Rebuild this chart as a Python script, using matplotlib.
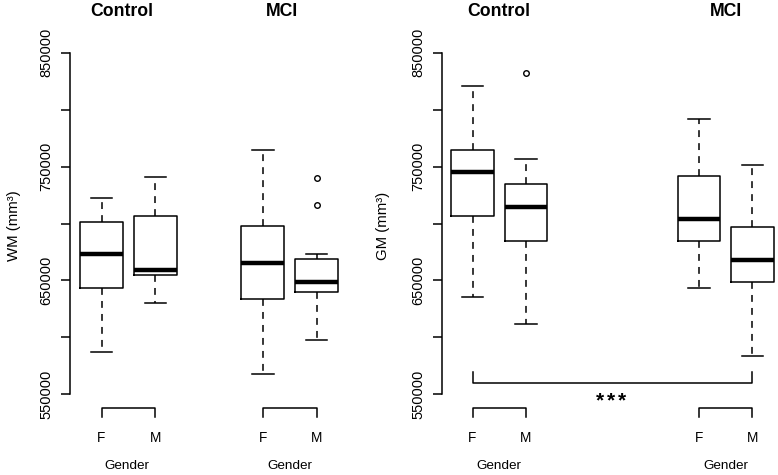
import matplotlib
matplotlib.use("Agg")
import matplotlib.pyplot as plt
import matplotlib.transforms as mtransforms

plt.rcParams['font.family'] = ['Liberation Sans', 'DejaVu Sans']

# ---------------- data ----------------
groups = ["Control", "MCI"]
genders = ["F", "M"]
yticks = [550000, 600000, 650000, 700000, 750000, 800000, 850000]
ytick_labels = ["550000", "", "650000", "", "750000", "", "850000"]

# WM (order: Control F, Control M, MCI F, MCI M)
wm_whislo = [587100, 630200, 568100, 597400]
wm_q1 = [643600, 655000, 633700, 639800]
wm_med = [673200, 659600, 665300, 648600]
wm_q3 = [701600, 706600, 697800, 668500]
wm_whishi = [722700, 740600, 764500, 672900]
wm_fliers = [[], [], [], [716500, 740200]]

# GM
gm_whislo = [635700, 611500, 643300, 583900]
gm_q1 = [706800, 684900, 684600, 648300]
gm_med = [745000, 714200, 704200, 667900]
gm_q3 = [764300, 735000, 742000, 696900]
gm_whishi = [821000, 756400, 792000, 751400]
gm_fliers = [[], [831900], [], []]

signif = "***"

# ---------------- layout ----------------
W, H = 778, 475
fig = plt.figure(figsize=(W / 100, H / 100), dpi=100)

Y_TOP_PX, Y_BOT_PX = 52.7, 394.3      # pixel rows of 850000 / 550000
per_px = (yticks[-1] - yticks[0]) / (Y_BOT_PX - Y_TOP_PX)
ylim = (yticks[-1] - (H - Y_TOP_PX) * per_px, yticks[-1] + Y_TOP_PX * per_px)


def yfrac(px):
    return 1 - px / H


def make_panel(ax_left_px, ax_right_px, p1_px, unit_px, positions, stats_arrays,
               ylabel, title_x_px, gender_x_px, ylab_x_px):
    ax = fig.add_axes([ax_left_px / W, 0, (ax_right_px - ax_left_px) / W, 1])
    x0 = 1 + (ax_left_px - p1_px) / unit_px
    x1 = 1 + (ax_right_px - p1_px) / unit_px
    whislo, q1, med, q3, whishi, fliers = stats_arrays
    stats = []
    for i in range(4):
        stats.append(dict(whislo=whislo[i], q1=q1[i], med=med[i], q3=q3[i],
                          whishi=whishi[i], fliers=fliers[i]))
    ax.bxp(stats, positions=positions, widths=0.8, capwidths=0.4,
           showfliers=True, patch_artist=False,
           boxprops=dict(color="black", linewidth=1.1),
           whiskerprops=dict(color="black", linewidth=1.1, linestyle=(0, (4.5, 4))),
           capprops=dict(color="black", linewidth=1.1),
           medianprops=dict(color="black", linewidth=3.2, solid_capstyle="butt"),
           flierprops=dict(marker="o", markersize=4, markerfacecolor="none",
                           markeredgecolor="black", markeredgewidth=1.0))
    ax.set_xlim(x0, x1)
    ax.set_ylim(*ylim)
    for s in ["top", "right", "bottom"]:
        ax.spines[s].set_visible(False)
    ax.spines["left"].set_bounds(yticks[0], yticks[-1])
    ax.spines["left"].set_linewidth(1.1)
    ax.set_yticks(yticks)
    ax.set_yticklabels(ytick_labels, rotation=90, va="center", fontsize=10.5)
    ax.tick_params(axis="y", length=6.5, width=1.1, pad=5.5)
    ax.set_xticks([])
    ax.set_facecolor("none")

    tr = mtransforms.blended_transform_factory(ax.transData, ax.transAxes)
    # gender brackets (per group axis)
    for g in range(2):
        pf, pm = positions[2 * g], positions[2 * g + 1]
        ax.plot([pf, pf, pm, pm], [yfrac(417.3), yfrac(408.3), yfrac(408.3), yfrac(417.3)],
                transform=tr, color="black", lw=1.1, clip_on=False)
        for p, lab in zip([pf, pm], genders):
            ax.text(p, yfrac(437.5), lab, transform=tr, ha="center", va="center",
                    fontsize=9.8)
    # titles and Gender labels in figure pixels
    for g in range(2):
        fig.text(title_x_px[g] / W, yfrac(11.5), groups[g], ha="center", va="center",
                 fontsize=12.7, fontweight="bold")
        fig.text(gender_x_px[g] / W, yfrac(466), "Gender", ha="center", va="center",
                 fontsize=9.7)
    fig.text(ylab_x_px / W, yfrac(225.5), ylabel, rotation=90, ha="center",
             va="center", fontsize=10.8)
    return ax, tr


axL, trL = make_panel(70, 360, 101.5, 53.8, [1, 2, 4, 5],
                      (wm_whislo, wm_q1, wm_med, wm_q3, wm_whishi, wm_fliers),
                      "WM (mm³)", [121.5, 282], [127, 289.5], 14)

posR = [1, 2, 1 + (699 - 472.5) / 53.5, 1 + (752.3 - 472.5) / 53.5]
axR, trR = make_panel(441.7, 778, 472.5, 53.5, posR,
                      (gm_whislo, gm_q1, gm_med, gm_q3, gm_whishi, gm_fliers),
                      "GM (mm³)", [499, 726], [499, 726], 382.5)

# significance bracket between Control F and MCI M (GM)
axR.plot([posR[0], posR[0], posR[3], posR[3]],
         [yfrac(371.7), yfrac(383.3), yfrac(383.3), yfrac(371.7)],
         transform=trR, color="black", lw=1.1, clip_on=False)
# asterisks, drawn one by one with R-like spacing
mid = (posR[0] + posR[3]) / 2
for k, ch in enumerate(signif):
    off = mtransforms.offset_copy(trR, fig=fig, x=(k - (len(signif) - 1) / 2) * 11 - 1.5,
                                  y=0, units="dots")
    axR.text(mid, yfrac(406), ch, transform=off, ha="center", va="baseline",
             fontsize=15, fontweight="bold")

fig.savefig("out.png", dpi=100)
